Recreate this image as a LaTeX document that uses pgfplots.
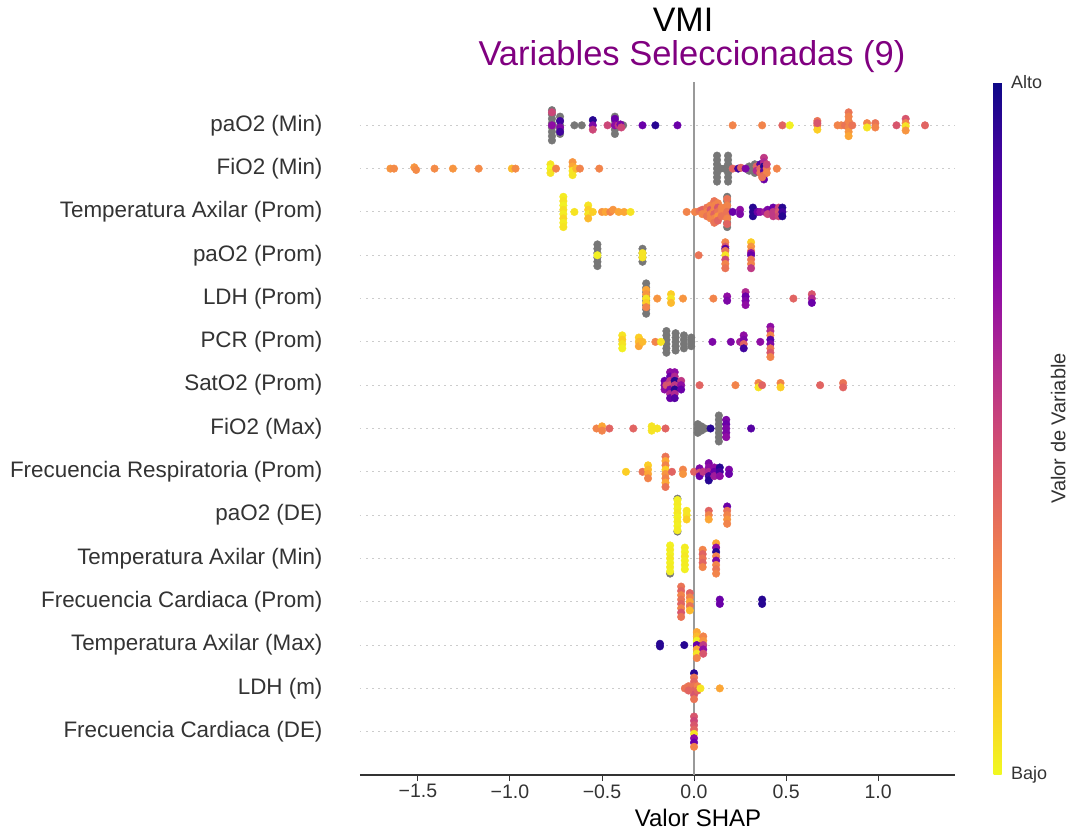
\documentclass[border=0pt]{standalone}
\usepackage{fontspec}
\setmainfont{Liberation Sans}
\usepackage{pgfplots}
\usepackage{pgfplotstable}
\pgfplotsset{compat=1.18}
\definecolor{txt}{HTML}{333333}
\definecolor{gridc}{HTML}{CCCCCC}
\definecolor{zeroc}{HTML}{999999}
\definecolor{nanc}{HTML}{777777}
\definecolor{ttlpurple}{HTML}{800080}
\pgfplotsset{colormap={shapc}{rgb255=(240,249,33) rgb255=(252,206,37) rgb255=(252,166,54) rgb255=(242,132,75) rgb255=(225,100,98) rgb255=(204,71,120) rgb255=(177,42,144) rgb255=(143,13,164) rgb255=(106,0,168) rgb255=(65,4,157) rgb255=(13,8,135)}}

\pgfplotstableread{
x y
-0.772 14.35
-0.772 14.25
-0.772 14.15
-0.772 14.05
-0.772 13.95
-0.772 13.85
-0.772 13.75
-0.772 13.65
-0.728 14.2
-0.728 14.1
-0.728 14.0
-0.728 13.9
-0.728 13.8
-0.65 14
-0.61 14
-0.43 14.2
-0.43 14.1
-0.43 14.0
-0.43 13.9
-0.43 13.8
-0.385 14
0.125 13.3
0.125 13.2
0.125 13.1
0.125 13.0
0.125 12.9
0.125 12.8
0.125 12.7
0.185 13.3
0.185 13.2
0.185 13.1
0.185 13.0
0.185 12.9
0.185 12.8
0.185 12.7
0.145 13.0
0.165 13.0
0.30 13.05
0.30 12.95
0.33 13.1
0.33 13.0
0.33 12.9
0.18 12.35
0.18 12.25
0.18 12.15
0.18 12.05
0.18 11.95
0.18 11.85
0.18 11.75
0.18 11.65
-0.525 11.25
-0.525 11.15
-0.525 11.05
-0.525 10.95
-0.525 10.85
-0.525 10.75
-0.28 11.15
-0.28 11.05
-0.28 10.95
-0.28 10.85
-0.26 10.35
-0.26 10.25
-0.26 10.15
-0.26 10.05
-0.26 9.95
-0.26 9.85
-0.26 9.75
-0.26 9.65
-0.15 9.25
-0.15 9.15
-0.15 9.05
-0.15 8.95
-0.15 8.85
-0.15 8.75
-0.10 9.2
-0.10 9.1
-0.10 9.0
-0.10 8.9
-0.10 8.8
-0.055 9.15
-0.055 9.05
-0.055 8.95
-0.055 8.85
-0.015 9.1
-0.015 9.0
-0.015 8.9
0.02 7.1
0.02 7.0
0.02 6.9
0.04 7.05
0.04 6.95
0.06 7.0
0.135 7.3
0.135 7.2
0.135 7.1
0.135 7.0
0.135 6.9
0.135 6.8
0.135 6.7
-0.09 5.38
-0.09 4.62
-0.13 3.65
}\nandata

\pgfplotstableread{
x y c
-0.772 14.3 0.5
-0.772 14.0 0.7
-0.728 14.1 0.9
-0.728 13.95 0.75
-0.728 13.85 0.9
-0.55 14.12 0.95
-0.55 14.0 0.75
-0.55 13.9 0.5
-0.47 14.0 0.5
-0.43 14.15 0.8
-0.43 14.0 0.7
-0.41 14.0 0.55
-0.40 14.02 0.75
-0.395 13.95 0.5
-0.28 14 0.8
-0.21 14 0.95
-0.09 14 0.8
0.21 14 0.3
0.37 14 0.3
0.48 14 0.4
0.52 14 0.02
0.67 14.1 0.35
0.67 14.0 0.3
0.67 13.9 0.1
0.67 14.05 0.45
0.78 14 0.3
0.80 14 0.3
0.82 14.0 0.35
0.84 14.3 0.35
0.84 14.2 0.3
0.84 14.1 0.3
0.84 13.95 0.3
0.84 13.85 0.25
0.84 13.75 0.2
0.86 14 0.35
0.94 14.05 0.3
0.94 13.95 0.05
0.985 14.05 0.35
0.985 13.95 0.3
1.10 14 0.45
1.15 14.15 0.45
1.15 14.05 0.3
1.15 13.98 0.05
1.15 13.88 0.25
1.255 14 0.4
-1.65 13 0.25
-1.63 13 0.28
-1.52 13.03 0.25
-1.51 12.97 0.28
-1.41 13 0.28
-1.31 13 0.25
-1.17 13 0.28
-0.99 13 0.15
-0.97 13 0.28
-0.78 13.1 0.05
-0.78 13.0 0.0
-0.78 12.9 0.05
-0.75 13 0.3
-0.66 13.15 0.25
-0.66 13.05 0.2
-0.66 12.95 0.05
-0.66 12.85 0.05
-0.64 13 0.15
-0.62 13 0.3
-0.515 13 0.3
0.21 13 0.4
0.24 13 0.9
0.255 13.02 0.4
0.28 13 0.75
0.34 13.05 0.4
0.34 12.95 0.6
0.36 13.1 0.85
0.36 13.0 0.4
0.36 12.9 0.35
0.38 13.25 0.55
0.38 13.15 0.6
0.38 13.05 0.95
0.38 12.95 0.85
0.38 12.85 0.4
0.38 12.75 0.8
0.395 13.0 0.35
0.395 12.9 0.3
0.395 13.1 0.5
0.37 12.8 0.35
0.45 13 0.3
-0.71 12.35 0.03
-0.71 12.25 0.05
-0.71 12.15 0.02
-0.71 12.05 0.06
-0.71 11.95 0.03
-0.71 11.85 0.08
-0.71 11.75 0.03
-0.71 11.65 0.05
-0.65 12 0.05
-0.575 12.15 0.05
-0.575 12.05 0.1
-0.575 11.95 0.05
-0.575 11.85 0.15
-0.55 12 0.1
-0.5 12.0 0.25
-0.48 12 0.2
-0.455 12 0.3
-0.44 12.05 0.25
-0.41 12 0.2
-0.38 12 0.2
-0.345 12 0.05
-0.04 12 0.3
0.005 12 0.3
0.03 12.02 0.35
0.045 12.05 0.4
0.045 11.95 0.3
0.07 12.1 0.35
0.07 12.0 0.3
0.07 11.9 0.35
0.09 12.15 0.3
0.09 12.05 0.45
0.09 11.95 0.3
0.09 11.85 0.3
0.11 12.25 0.35
0.11 12.15 0.3
0.11 12.05 0.3
0.11 11.95 0.4
0.11 11.85 0.3
0.11 11.75 0.35
0.13 12.2 0.3
0.13 12.1 0.45
0.13 12.0 0.35
0.13 11.9 0.25
0.13 11.8 0.4
0.15 12.1 0.3
0.15 12.0 0.3
0.15 11.9 0.35
0.18 12.3 0.35
0.18 12.15 0.3
0.18 12.0 0.35
0.18 11.85 0.3
0.18 11.72 0.4
0.21 12 0.8
0.25 12.05 0.7
0.25 11.95 0.75
0.32 12.1 0.95
0.32 12.0 0.95
0.32 11.9 0.95
0.345 12 0.8
0.36 12.0 0.7
0.385 12.0 0.65
0.40 12.05 0.75
0.40 11.95 0.5
0.43 12.1 0.8
0.43 12.0 0.55
0.43 11.9 0.55
0.46 12.1 0.5
0.46 12.0 0.45
0.46 11.9 0.5
0.48 12.1 0.95
0.48 12.0 0.9
0.48 11.9 0.95
-0.525 11.0 0.02
-0.28 11.05 0.05
-0.28 10.95 0.05
0.025 11 0.35
0.17 11.3 0.3
0.17 11.2 0.45
0.17 11.15 0.85
0.17 11.1 0.35
0.17 11.0 0.05
0.17 10.9 0.5
0.17 10.8 0.3
0.17 10.7 0.35
0.31 11.3 0.1
0.31 11.2 0.25
0.31 11.1 0.3
0.31 11.05 0.7
0.31 11.0 0.8
0.31 10.9 0.35
0.31 10.8 0.3
0.31 10.7 0.55
-0.26 10.2 0.2
-0.26 10.1 0.25
-0.26 10.0 0.05
-0.26 9.9 0.1
-0.26 9.8 0.3
-0.2 10 0.25
-0.125 10.1 0.1
-0.125 10.0 0.05
-0.125 9.9 0.15
-0.06 10 0.25
0.105 10 0.3
0.18 10.05 0.7
0.18 9.95 0.75
0.28 10.15 0.6
0.28 10.05 0.8
0.28 9.95 0.75
0.28 9.85 0.7
0.54 10 0.4
0.64 10.1 0.45
0.64 10.0 0.6
0.64 9.9 0.8
-0.39 9.15 0.05
-0.39 9.05 0.1
-0.39 8.95 0.05
-0.39 8.85 0.02
-0.30 9.1 0.1
-0.30 9.0 0.15
-0.30 8.9 0.2
-0.28 9.0 0.15
-0.21 9 0.3
-0.18 9 0.05
0.10 9 0.75
0.20 9 0.75
0.25 9.0 0.65
0.27 9.15 0.7
0.27 9.05 0.75
0.27 8.95 0.4
0.27 8.85 0.9
0.36 9 0.7
0.415 9.35 0.7
0.415 9.25 0.6
0.415 9.15 0.3
0.415 9.05 0.85
0.415 8.95 0.75
0.415 8.85 0.35
0.415 8.75 0.45
0.415 8.65 0.3
-0.16 8.1 0.8
-0.16 8.0 0.75
-0.16 7.9 0.7
-0.15 8.0 0.45
-0.13 8.3 0.7
-0.13 8.2 0.8
-0.13 8.1 0.55
-0.13 8.0 0.45
-0.13 7.9 0.75
-0.13 7.8 0.6
-0.13 7.7 0.8
-0.105 8.3 0.7
-0.105 8.2 0.6
-0.105 8.1 0.95
-0.105 8.0 0.55
-0.105 7.9 0.95
-0.105 7.8 0.6
-0.105 7.7 0.85
-0.07 8.1 0.55
-0.07 8.0 0.7
-0.07 7.9 0.8
0.03 8 0.4
0.225 8 0.3
0.35 8.05 0.3
0.35 7.95 0.05
0.37 8.0 0.4
0.47 8.05 0.3
0.47 7.95 0.1
0.685 8 0.4
0.81 8.05 0.35
0.81 7.95 0.4
-0.53 7 0.3
-0.50 7.05 0.2
-0.50 6.95 0.3
-0.46 7 0.4
-0.33 7 0.4
-0.23 7.05 0.05
-0.23 6.95 0.05
-0.20 7.0 0.05
-0.155 7 0.4
0.09 7 0.95
0.175 7.2 0.75
0.175 7.1 0.8
0.175 7.0 0.75
0.175 6.9 0.75
0.175 6.8 0.7
0.31 7 0.85
-0.37 6 0.1
-0.28 6 0.35
-0.25 6.15 0.1
-0.25 6.05 0.15
-0.25 5.95 0.2
-0.25 5.85 0.3
-0.155 6.35 0.35
-0.155 6.25 0.2
-0.155 6.15 0.3
-0.155 6.05 0.1
-0.155 5.95 0.25
-0.155 5.85 0.3
-0.155 5.75 0.2
-0.155 5.65 0.35
-0.12 6 0.4
-0.06 6.05 0.3
-0.06 5.95 0.25
0.0 6 0.4
0.03 6.08 0.75
0.03 5.98 0.45
0.03 5.9 0.8
0.05 6.0 0.55
0.08 6.2 0.75
0.08 6.1 0.7
0.08 6.0 0.6
0.08 5.9 0.9
0.08 5.8 0.95
0.11 6.1 0.7
0.11 6.0 0.8
0.11 5.9 0.65
0.14 6.1 0.95
0.14 6.0 0.9
0.14 5.9 0.7
0.19 6.05 0.75
0.19 5.95 0.8
-0.09 5.35 0.02
-0.09 5.25 0.03
-0.09 5.15 0.02
-0.09 5.05 0.04
-0.09 4.95 0.02
-0.09 4.85 0.03
-0.09 4.75 0.02
-0.09 4.65 0.03
-0.04 5.1 0.05
-0.04 5.0 0.05
-0.04 4.9 0.1
0.08 5.1 0.4
0.08 5.0 0.3
0.08 4.9 0.2
0.18 5.2 0.8
0.18 5.1 0.35
0.18 5.0 0.3
0.18 4.9 0.25
0.18 4.8 0.3
-0.13 4.3 0.02
-0.13 4.2 0.03
-0.13 4.1 0.02
-0.13 4.0 0.04
-0.13 3.9 0.02
-0.13 3.8 0.03
-0.13 3.7 0.02
-0.05 4.25 0.03
-0.05 4.15 0.02
-0.05 4.05 0.04
-0.05 3.95 0.02
-0.05 3.85 0.03
-0.05 3.75 0.02
0.047 4.2 0.3
0.047 4.1 0.4
0.047 4.0 0.35
0.047 3.9 0.4
0.047 3.8 0.3
0.12 4.35 0.2
0.12 4.25 0.7
0.12 4.15 0.95
0.12 4.05 0.3
0.12 3.95 0.75
0.12 3.85 0.3
0.12 3.75 0.35
0.12 3.65 0.3
-0.07 3.35 0.35
-0.07 3.25 0.4
-0.07 3.15 0.3
-0.07 3.05 0.35
-0.07 2.95 0.4
-0.07 2.85 0.3
-0.07 2.75 0.45
-0.07 2.65 0.35
-0.023 3.2 0.4
-0.023 3.1 0.3
-0.023 3.0 0.2
-0.023 2.9 0.35
-0.023 2.8 0.15
0.14 3.05 0.8
0.14 2.95 0.8
0.37 3.05 0.95
0.37 2.95 0.95
-0.185 2.03 0.95
-0.185 1.97 0.95
-0.053 2 0.95
0.015 2.3 0.2
0.015 2.2 0.15
0.015 2.1 0.02
0.015 2.0 0.8
0.015 1.9 0.2
0.015 1.8 0.05
0.015 1.7 0.3
0.05 2.2 0.3
0.05 2.1 0.25
0.05 2.0 0.55
0.05 1.9 0.7
0.05 1.8 0.45
0.0 1.35 0.95
0.0 1.25 0.35
0.0 1.15 0.4
0.0 1.05 0.35
0.0 0.95 0.4
0.0 0.85 0.45
0.0 0.75 0.35
-0.05 1.0 0.35
-0.03 1.05 0.35
-0.03 0.95 0.4
0.02 1.05 0.3
0.02 0.95 0.4
0.035 1.0 0.05
0.14 1 0.2
0.0 0.35 0.45
0.0 0.25 0.5
0.0 0.15 0.45
0.0 0.05 0.4
0.0 -0.05 0.05
0.0 -0.15 0.7
0.0 -0.25 0.8
0.0 -0.35 0.3
}\coldata

\begin{document}
\begin{tikzpicture}
\useasboundingbox (0,0) rectangle (1070bp,835bp);
\begin{axis}[
  at={(360bp,60bp)}, anchor=south west,
  scale only axis, width=595bp, height=693bp,
  xmin=-1.815, xmax=1.418, ymin=-1, ymax=15,
  axis x line*=bottom, axis y line*=left,
  y axis line style={draw=none},
  x axis line style={color=txt, line width=1.3bp, -},
  xtick={-1.5,-1,-0.5,0,0.5,1},
  xticklabels={−1.5,−1.0,−0.5,0.0,0.5,1.0},
  xtick style={color=txt, line width=1bp},
  major tick length=6bp, tick align=outside,
  ytick={0,...,14},
  yticklabels={Frecuencia Cardiaca (DE),LDH (m),Temperatura Axilar (Max),Frecuencia Cardiaca (Prom),Temperatura Axilar (Min),paO2 (DE),Frecuencia Respiratoria (Prom),FiO2 (Max),SatO2 (Prom),PCR (Prom),LDH (Prom),paO2 (Prom),Temperatura Axilar (Prom),FiO2 (Min),paO2 (Min)},
  ytick style={draw=none},
  ymajorgrids,
  y grid style={color=gridc, line width=1bp, dash pattern=on 1.5bp off 4.5bp},
  xticklabel style={font=\fontsize{19.5bp}{22bp}\selectfont, text=txt},
  yticklabel style={font=\fontsize{22.4bp}{26bp}\selectfont, text=txt, xshift=-28bp},
  colormap name=shapc, point meta min=0, point meta max=1,
  colorbar,
  colorbar style={
    at={(parent axis.north east)}, anchor=north west, xshift=30bp,
    width=8bp,
    axis line style={draw=none},
    ytick={0,1}, yticklabels={Bajo,Alto},
    ytick style={draw=none},
    major tick length=0pt,
    yticklabel style={font=\fontsize{18bp}{20bp}\selectfont, text=txt, xshift=6bp},
    ylabel={Valor de Variable},
    ylabel style={font=\fontsize{20bp}{24bp}\selectfont, text=txt, at={(axis description cs:8.1,0.5)}, anchor=center},
  },
]
\addplot[color=zeroc, line width=1.6bp, forget plot] coordinates {(0,-1) (0,15)};
\addplot[only marks, mark=*, mark size=3.8bp, color=nanc, forget plot] table[x=x, y=y] {\nandata};
\addplot[scatter, only marks, mark=*, mark size=3.8bp, scatter src=explicit,
  scatter/use mapped color={draw=mapped color, fill=mapped color}] table[x=x, y=y, meta=c] {\coldata};
\end{axis}
\node[font=\fontsize{34bp}{38bp}\selectfont] at (683bp,815bp) {VMI};
\node[font=\fontsize{34.5bp}{38bp}\selectfont, text=ttlpurple] at (692bp,778bp) {Variables Seleccionadas (9)};
\node[font=\fontsize{24bp}{28bp}\selectfont] at (698bp,17bp) {Valor SHAP};
\end{tikzpicture}
\end{document}
